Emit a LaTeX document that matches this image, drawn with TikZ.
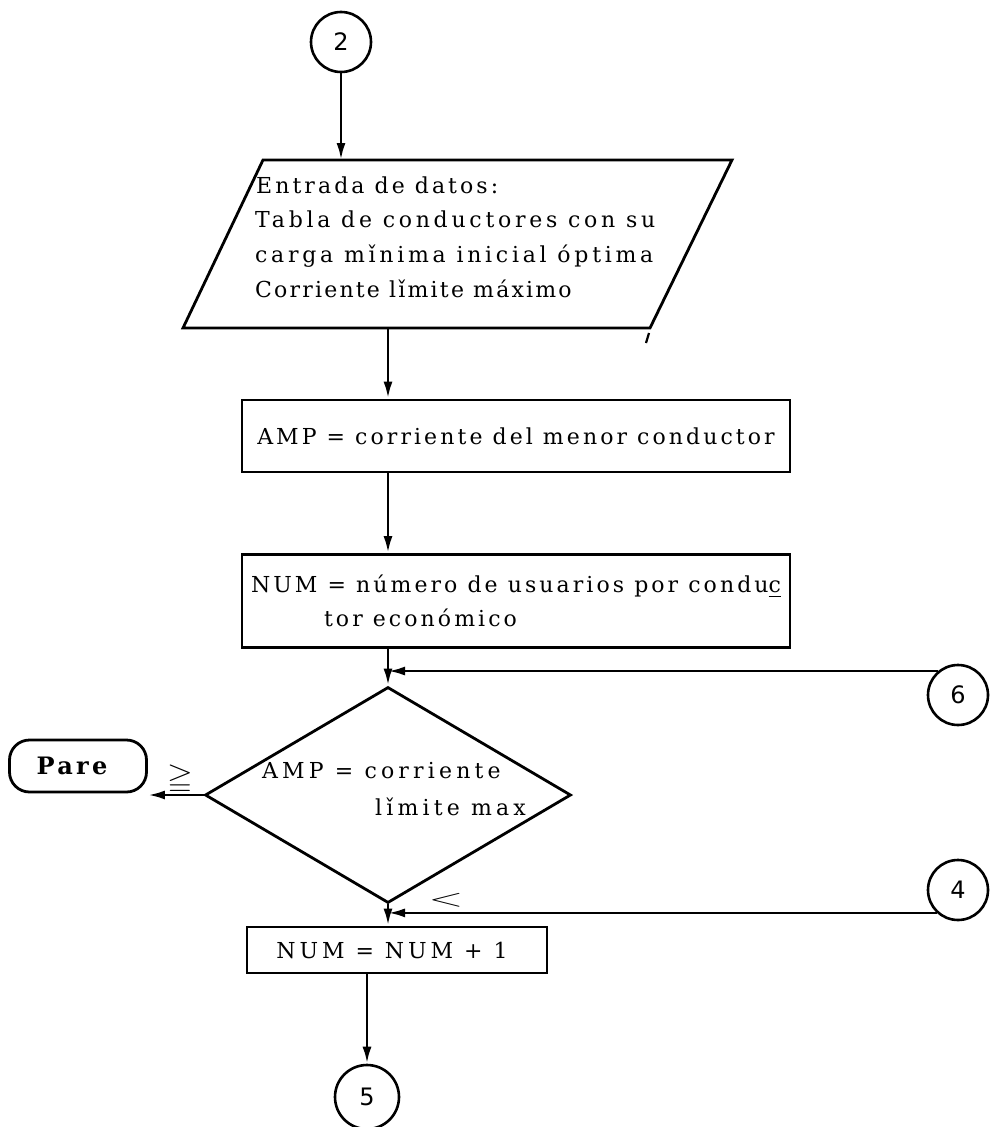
\documentclass[tikz,border=0pt]{standalone}
\usepackage{amssymb}
\usepackage{fontspec}
\setmainfont{DejaVu Serif}[LetterSpace=14]
\setsansfont{DejaVu Sans}
\usetikzlibrary{shapes.geometric,arrows.meta}

\newcommand{\track}[1]{\addfontfeatures{LetterSpace=#1}}

\begin{document}
\begin{tikzpicture}[x=1pt,y=-1pt,
  line/.style={line width=2.8pt},
  arr/.style={line width=2.8pt,-{Latex[length=17pt,width=9pt]}},
  conn/.style={circle,draw,line width=2.6pt,minimum size=60pt,inner sep=0pt,
    font=\sffamily\fontsize{24}{24}\selectfont},
  box/.style={draw,line width=2.8pt,inner sep=0pt},
  txt/.style={font=\fontsize{22}{34}\selectfont,inner sep=0pt},
  relsign/.style={font=\fontsize{22}{22}\selectfont,inner sep=0pt}]

\useasboundingbox (0,0) rectangle (989,1127);

% entry connector
\node[conn] (c2) at (341,42) {2};

% data input (parallelogram)
\coordinate (pa) at (183,328);
\coordinate (pb) at (650,328);
\coordinate (pc) at (732,160);
\coordinate (pd) at (263,160);
\draw[line,line join=miter] (pa) -- (pb) -- (pc) -- (pd) -- cycle;
\draw[line width=2.2pt] (646,343) -- (649,333);
\node[txt,anchor=base west] (in1) at (256,193) {Entrada de datos:};
\node[txt,anchor=base west] (in2) at (255,227) {\track{17}Tabla de conductores con su};
\node[txt,anchor=base west] (in3) at (255,262) {\track{17}carga mǐnima inicial óptima};
\node[txt,anchor=base west] (in4) at (255,297) {\track{10}Corriente lǐmite máximo};
\coordinate (inBot) at (388,328);

% process boxes
\node[box,txt,minimum width=548,minimum height=72] (r1) at (516,436)
  {AMP = corriente del menor conductor};
\node[box,txt,minimum width=548,minimum height=93,align=left] (r2) at (516,601)
  {NUM = número de usuarios por condu\underline{c}\\\hspace*{73pt}tor económico};

% decision
\node[diamond,draw,line width=2.8pt,minimum width=366,minimum height=216,inner sep=0pt] (d) at (388,795) {};
\node[txt,anchor=base west] (dt1) at (262,778) {\track{19}AMP = corriente};
\node[txt,anchor=base west] (dt2) at (375,815) {\track{19}lǐmite max};

\node[box,txt,font=\fontsize{24}{24}\selectfont\bfseries,rounded corners=20pt,
  minimum width=137,minimum height=52] (pare) at (78,766) {Pare\hspace*{12pt}};

\node[box,txt,minimum width=300,minimum height=46] (r3) at (397,950)
  {\track{18}NUM = NUM + 1\hspace*{10pt}};

% off-page connectors
\node[conn] (c6) at (958,695) {6};
\node[conn] (c4) at (958,890) {4};
\node[conn,minimum size=64pt] (c5) at (367,1097) {5};

% branch marks
\node[relsign] (ge) at (180,779) {\scalebox{1.5}[1.3]{$\geqq$}};
\node[relsign] (lt) at (446,900) {\scalebox{2.2}[1.2]{$<$}};

% flow lines
\draw[arr] (c2.south) -- (c2.south |- pd);
\draw[arr] (inBot) -- (inBot |- r1.north);
\draw[arr] (r1.south -| d.north) -- (r2.north -| d.north);
\draw[arr] (r2.south -| d.north) -- (d.north);
\draw[arr] (c6.130) -- (c6.130 -| d.north);
\draw[arr] (d.west) -- (d.west -| pare.east);
\draw[arr] (d.south) -- (d.south |- r3.north);
\draw[arr] (c4.227) -- (c4.227 -| d.south);
\draw[arr] (r3.south -| c5.north) -- (c5.north);

\end{tikzpicture}
\end{document}
